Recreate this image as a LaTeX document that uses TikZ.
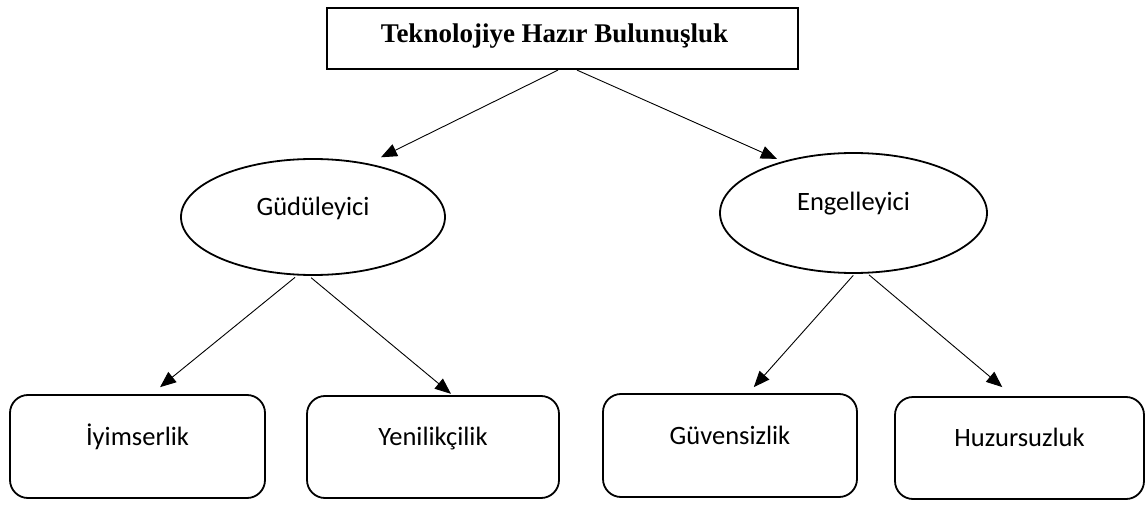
\documentclass[tikz,border=0pt]{standalone}
\usepackage{fontspec}
\setmainfont{Carlito}
\newfontfamily\timesfont{Liberation Serif}
\usetikzlibrary{shapes.geometric,arrows.meta}

\begin{document}
\begin{tikzpicture}[x=1pt,y=-1pt,
    anabox/.style={draw,line width=2.2pt,inner sep=0pt,minimum width=471pt,minimum height=61pt,
      font=\timesfont\bfseries\fontsize{27}{32}\selectfont,text height=18pt,text depth=9pt},
    boyut/.style={draw,ellipse,line width=1.8pt,inner sep=0pt,
      font=\fontsize{26.5}{32}\selectfont,text height=18pt,text depth=22pt},
    altbox/.style={draw,rounded corners=18pt,line width=1.8pt,inner sep=0pt,minimum height=103pt,
      font=\fontsize{26.5}{32}\selectfont,text height=18pt,text depth=21pt},
    ok/.style={-{Triangle[length=16pt,width=13pt]},line width=0.9pt}]
      \useasboundingbox (0,0) rectangle (1148,505);
      \node[anabox] (thb) at (562.5,38.5) {\hspace*{-16pt}Teknolojiye Hazır Bulunuşluk};
      \node[boyut,minimum width=264pt,minimum height=116pt] (gud) at (313,217) {Güdüleyici};
      \node[boyut,minimum width=267pt,minimum height=120pt] (eng) at (853.5,213) {Engelleyici};
      \node[altbox,minimum width=255pt] (iyi) at (137.5,446.5) {İyimserlik};
      \node[altbox,minimum width=252pt,minimum height=102pt] (yen) at (433,447) {Yenilikçilik};
      \node[altbox,minimum width=254pt] (guv) at (730,445.5) {Güvensizlik};
      \node[altbox,minimum width=249pt,minimum height=102pt] (huz) at (1019.5,448) {Huzursuzluk};
      \draw[ok,shorten >=14pt] ([xshift=-4.5pt]thb.south) -- (gud.44);
      \draw[ok,shorten >=6pt] ([xshift=14.5pt]thb.south) -- (eng.144);
      \draw[ok,shorten <=3pt,shorten >=11pt] (gud.255) -- ([xshift=14pt]iyi.north);
      \draw[ok,shorten <=3pt,shorten >=2pt] (gud.266) -- ([xshift=19.5pt]yen.north);
      \draw[ok,shorten <=2pt,shorten >=8pt] (eng.271) -- ([xshift=18.5pt]guv.north);
      \draw[ok,shorten <=2pt,shorten >=14pt] (eng.283) -- ([xshift=-6.5pt]huz.north);
    \end{tikzpicture}
\end{document}
